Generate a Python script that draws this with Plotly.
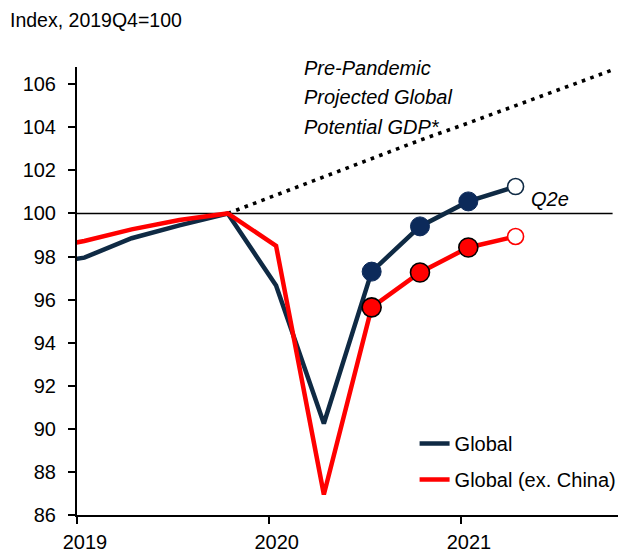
import plotly.graph_objects as go

# ---- data ----
quarters = ["2018Q4", "2019Q1", "2019Q2", "2019Q3", "2019Q4", "2020Q1",
            "2020Q2", "2020Q3", "2020Q4", "2021Q1", "2021Q2"]
dates = ["2018-10-15", "2019-01-15", "2019-04-15", "2019-07-15", "2019-10-15",
         "2020-01-15", "2020-04-15", "2020-07-15", "2020-10-15", "2021-01-15",
         "2021-04-15"]
global_idx = [97.6, 97.95, 98.85, 99.45, 100.0, 96.65, 90.25, 97.3, 99.4, 100.56, 101.25]
global_exchina = [98.3, 98.72, 99.26, 99.7, 100.0, 98.5, 86.95, 95.64, 97.26, 98.42, 98.93]

potential_dates = ["2019-10-15", "2020-01-15", "2020-04-15", "2020-07-15", "2020-10-15",
                   "2021-01-15", "2021-04-15", "2021-07-15", "2021-10-15"]
potential_gdp = [100.0, 100.85, 101.7, 102.55, 103.4, 104.2, 105.0, 105.85, 106.65]

marker_from = 7          # markers from 2020Q3
estimate_index = 10      # 2021Q2 is an estimate (open circle)

y_ticks = [86, 88, 90, 92, 94, 96, 98, 100, 102, 104, 106]

NAVY_LINE = "#0f2a44"
NAVY_MARK = "#0c2a5a"
RED = "#ff0000"
FONT = "Liberation Sans, Arial, sans-serif"
FS = 20

fig = go.Figure()

fig.add_trace(go.Scatter(x=potential_dates, y=potential_gdp, mode="lines",
                         line=dict(color="black", width=3.6, dash="3.6px,5.4px"),
                         showlegend=False, hoverinfo="skip"))
fig.add_trace(go.Scatter(x=dates, y=global_idx, mode="lines", name="Global", legendgroup="g1",
                         line=dict(color=NAVY_LINE, width=4.5)))
fig.add_trace(go.Scatter(x=dates, y=global_exchina, mode="lines", name="Global (ex. China)",
                         legendgroup="g2", line=dict(color=RED, width=4.5)))

# filled markers
fig.add_trace(go.Scatter(x=dates[marker_from:estimate_index], y=global_idx[marker_from:estimate_index],
                         mode="markers", showlegend=False,
                         marker=dict(size=19, color=NAVY_MARK, line=dict(color=NAVY_MARK, width=1))))
fig.add_trace(go.Scatter(x=dates[marker_from:estimate_index], y=global_exchina[marker_from:estimate_index],
                         mode="markers", showlegend=False,
                         marker=dict(size=19, color=RED, line=dict(color="black", width=1.6))))
# open (estimate) markers
fig.add_trace(go.Scatter(x=[dates[estimate_index]], y=[global_idx[estimate_index]],
                         mode="markers", showlegend=False,
                         marker=dict(size=16, color="white", line=dict(color=NAVY_LINE, width=1.6))))
fig.add_trace(go.Scatter(x=[dates[estimate_index]], y=[global_exchina[estimate_index]],
                         mode="markers", showlegend=False,
                         marker=dict(size=16, color="white", line=dict(color=RED, width=1.6))))

fig.add_shape(type="line", xref="paper", yref="y", x0=0, x1=0.99, y0=100, y1=100,
              line=dict(color="black", width=1.6), layer="below")

fig.add_annotation(text="Index, 2019Q4=100", xref="paper", yref="paper",
                   x=-0.1275, y=1.105, xanchor="left", yanchor="middle", showarrow=False,
                   font=dict(size=19.5, color="black", family=FONT))
for i, line_txt in enumerate(["Pre-Pandemic", "Projected Global", "Potential GDP*"]):
    fig.add_annotation(text="<i>" + line_txt + "</i>", xref="paper", yref="paper",
                       x=(302 - 77) / 541, y=(515 - (68 + 29.5 * i)) / 448,
                       xanchor="left", yanchor="middle", showarrow=False,
                       font=dict(size=FS, color="black", family=FONT))
fig.add_annotation(text="<i>Q2e</i>", xref="paper", yref="paper",
                   x=(529 - 77) / 541, y=(515 - 199) / 448, xanchor="left", yanchor="middle",
                   showarrow=False, font=dict(size=FS, color="black", family=FONT))

fig.update_layout(
    width=618, height=552,
    margin=dict(l=77, r=0, t=67, b=37, autoexpand=False),
    paper_bgcolor="white", plot_bgcolor="white",
    font=dict(family=FONT, size=FS, color="black"),
    legend=dict(x=0.624, y=0.203, xanchor="left", yanchor="top",
                bgcolor="rgba(0,0,0,0)", font=dict(size=FS), tracegroupgap=7),
    xaxis=dict(type="date", range=["2019-01-01", "2021-10-27"],
               tickvals=["2019-01-01", "2020-01-01", "2021-01-01"],
               ticktext=["2019", "2020", "2021"], automargin=False,
               ticks="outside", ticklen=7, tickwidth=1.6, tickcolor="black",
               showline=True, linecolor="black", linewidth=2,
               showgrid=False, zeroline=False, ticklabelshift=8, ticklabelstandoff=1),
    yaxis=dict(range=[86, 106.8], tickvals=y_ticks, automargin=False,
               ticks="outside", ticklen=7, tickwidth=1.6, tickcolor="black",
               showline=True, linecolor="black", linewidth=2,
               showgrid=False, zeroline=False, ticklabelstandoff=8),
)

fig.write_html("out.html")
